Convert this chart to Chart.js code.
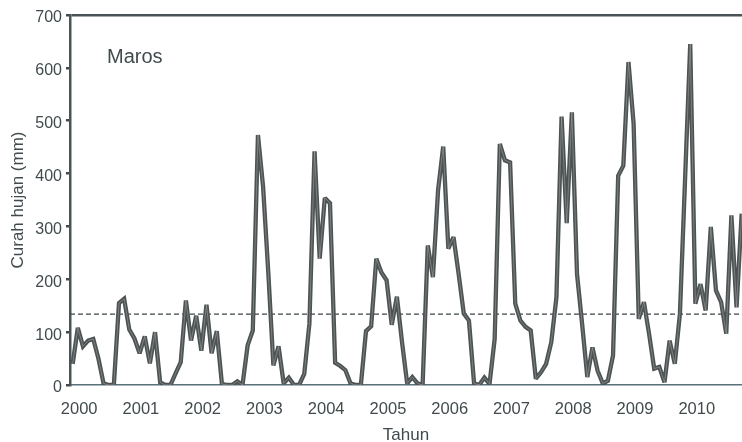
<!DOCTYPE html>
<html>
<head>
<meta charset="utf-8">
<script src="https://cdn.jsdelivr.net/npm/chart.js@4.4.1/dist/chart.umd.min.js"></script>
<style>
  html, body { margin: 0; padding: 0; background: #ffffff; }
  #wrap { width: 742px; height: 442px; }
</style>
</head>
<body>
<div id="wrap"><canvas id="c" width="742" height="442"></canvas></div>
<script>
// Monthly rainfall, Maros, Jan 2000 onward (mm)
const rainfall = [
  40, 108, 73, 84, 87, 50, 3, 0, 0, 155, 163, 105,
  88, 60, 92, 41, 100, 5, 0, 0, 22, 43, 160, 84,
  131, 65, 152, 60, 102, 2, 0, 0, 7, 0, 75, 103,
  473, 375, 215, 37, 73, 3, 14, 0, 0, 21, 116, 442,
  239, 354, 344, 42, 36, 28, 3, 0, 0, 102, 111, 239,
  213, 198, 114, 167, 81, 3, 15, 3, 0, 264, 204, 368,
  451, 258, 280, 210, 135, 122, 3, 0, 14, 2, 87, 456,
  425, 421, 154, 122, 110, 103, 12, 24, 40, 81, 166, 508,
  306, 516, 210, 115, 15, 71, 27, 3, 8, 56, 396, 415,
  611, 494, 125, 157, 97, 31, 34, 5, 84, 40, 135, 390,
  645, 154, 191, 141, 299, 179, 157, 97, 321, 147, 324
];
const yearLabels = ['2000','2001','2002','2003','2004','2005','2006','2007','2008','2009','2010'];
const yTickValues = [0, 100, 200, 300, 400, 500, 600, 700];
const meanRain = 134;
const stationName = 'Maros';
const yTitle = 'Curah hujan (mm)';
const xTitle = 'Tahun';

const xMin = -0.52, xMax = 130.06;
const ink = '#414b4d';
const lineInk = '#4d5253';

const seriesPts = rainfall.map((v, i) => ({ x: i, y: v }));
const meanPts = [{ x: xMin, y: meanRain }, { x: xMax, y: meanRain }];

const labelPlugin = {
  id: 'stationLabel',
  beforeDatasetsDraw(chart) {
    chart.ctx.miterLimit = 2.2;
  },
  afterDatasetsDraw(chart) {
    const { ctx, chartArea } = chart;
    ctx.save();
    ctx.fillStyle = ink;
    ctx.font = '20px "Liberation Sans", Arial, sans-serif';
    ctx.textBaseline = 'alphabetic';
    ctx.textAlign = 'left';
    ctx.fillText(stationName, chartArea.left + 37, chartArea.top + 48);
    ctx.restore();
  }
};

new Chart(document.getElementById('c'), {
  type: 'line',
  data: {
    datasets: [
      {
        label: 'mean',
        data: meanPts,
        borderColor: '#3f4749',
        borderWidth: 1.2,
        borderDash: [5, 3],
        pointRadius: 0,
        fill: false,
        order: 3
      },
      {
        label: 'rain',
        data: seriesPts,
        borderColor: lineInk,
        borderWidth: 4.3,
        borderJoinStyle: 'miter',
        pointRadius: 0,
        tension: 0,
        fill: false,
        order: 2
      },
      {
        label: 'core',
        data: seriesPts,
        borderColor: 'rgba(190,195,195,0.45)',
        borderWidth: 0.9,
        borderJoinStyle: 'miter',
        pointRadius: 0,
        tension: 0,
        fill: false,
        order: 1
      }
    ]
  },
  options: {
    responsive: false,
    devicePixelRatio: 1,
    animation: false,
    layout: { padding: { top: 15, right: 0, bottom: 0, left: 0 } },
    plugins: { legend: { display: false }, tooltip: { enabled: false } },
    scales: {
      x: {
        type: 'linear',
        min: xMin,
        max: xMax,
        bounds: 'data',
        afterBuildTicks: (scale) => {
          scale.ticks = yearLabels.map((_, i) => ({ value: i * 12 }));
        },
        afterFit: (scale) => { scale.height = 57; },
        grid: { display: false, drawTicks: false },
        border: { display: true, color: '#58717a', width: 1.5 },
        ticks: {
          autoSkip: false,
          maxRotation: 0,
          padding: 15,
          labelOffset: 6.5,
          color: ink,
          font: { family: '"Liberation Sans", Arial, sans-serif', size: 16.5 },
          callback: (v, i) => yearLabels[i]
        },
        title: {
          display: true,
          text: xTitle,
          color: ink,
          padding: { top: 0, bottom: -2 },
          font: { family: '"Liberation Sans", Arial, sans-serif', size: 17, lineHeight: 1 }
        }
      },
      y: {
        min: 0,
        max: 700,
        afterBuildTicks: (scale) => {
          scale.ticks = yTickValues.map(v => ({ value: v }));
        },
        afterFit: (scale) => { scale.width = 70; },
        grid: {
          drawOnChartArea: true,
          drawTicks: true,
          tickLength: 4,
          tickColor: ink,
          lineWidth: 2.5,
          color: (c) => (c.tick && c.tick.value === 700 ? '#4a5456' : 'rgba(0,0,0,0)')
        },
        border: { display: true, color: '#4a5456', width: 2.5 },
        ticks: {
          padding: 4,
          labelOffset: 3,
          color: ink,
          font: { family: '"Liberation Sans", Arial, sans-serif', size: 16 }
        },
        title: {
          display: true,
          text: yTitle,
          color: ink,
          padding: { top: 10, bottom: 0 },
          font: { family: '"Liberation Sans", Arial, sans-serif', size: 17, lineHeight: 1 }
        }
      }
    }
  },
  plugins: [labelPlugin]
});
</script>
</body>
</html>
